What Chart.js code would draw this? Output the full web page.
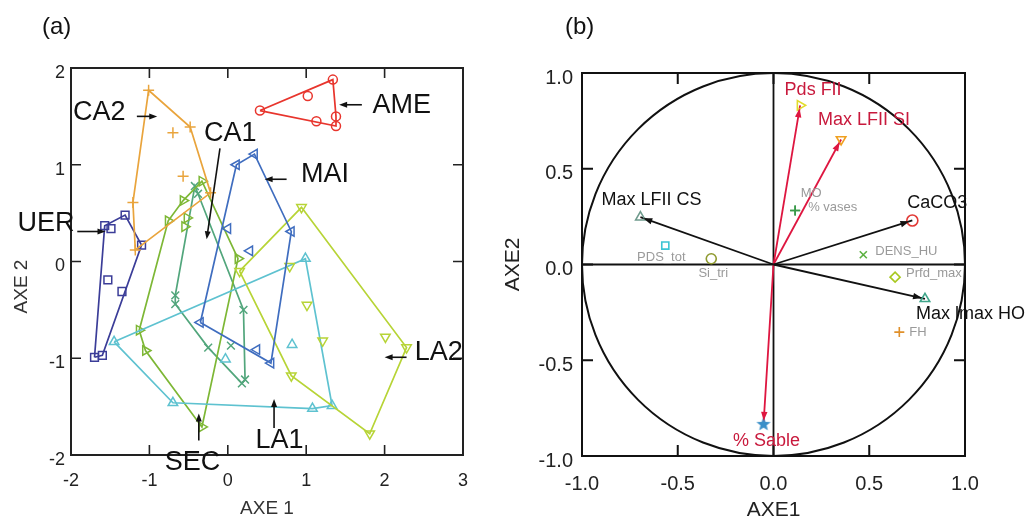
<!DOCTYPE html>
<html>
<head>
<meta charset="utf-8">
<title>ACP - AXE 1 / AXE 2</title>
<script src="https://cdn.jsdelivr.net/npm/chart.js@4.4.1/dist/chart.umd.min.js"></script>
<style>
  body { margin: 0; background: #fff; width: 1032px; height: 521px; overflow: hidden; position: relative;
         font-family: 'Liberation Sans', Arial, sans-serif; }
  .panel { position: absolute; top: 0; height: 521px; }
  .tag { position: absolute; top: 12px; font-size: 24px; color: #111; }
</style>
</head>
<body>
<div class="panel" style="left:0; width:490px"><canvas id="chartA" width="490" height="521"></canvas></div>
<div class="panel" style="left:490px; width:542px"><canvas id="chartB" width="542" height="521"></canvas></div>
<div class="tag" style="left:42px">(a)</div>
<div class="tag" style="left:565px">(b)</div>

<script>
// ---- (a) scores of the samples on AXE 1 / AXE 2, one pair of arrays per group
const groups = ['AME', 'CA2', 'UER', 'MAI', 'LA2', 'LA1', 'SEC', 'CA1'];
const ameX = [1.34, 0.41, 1.02, 1.38, 1.13, 1.38];
const ameY = [1.88, 1.56, 1.71, 1.50, 1.45, 1.40];
const ca2X = [-1.01, -0.48, -0.70, -0.57, -1.21, -1.18, -0.22];
const ca2Y = [1.77, 1.39, 1.33, 0.88, 0.61, 0.12, 0.71];
const uerX = [-1.57, -1.49, -1.31, -1.10, -1.53, -1.35, -1.70, -1.60];
const uerY = [0.37, 0.34, 0.48, 0.17, -0.19, -0.31, -0.99, -0.97];
const maiX = [0.11, 0.34, 0.81, 0.00, 0.28, -0.35, 0.37, 0.55];
const maiY = [1.00, 1.11, 0.31, 0.34, 0.11, -0.63, -0.91, -1.05];
const la2X = [0.94, 2.28, 1.81, 0.81, 0.15, 0.79, 1.01, 1.21, 2.01];
const la2Y = [0.56, -0.89, -1.78, -1.18, -0.10, -0.05, -0.45, -0.82, -0.78];
const la1X = [0.99, -1.45, -0.70, 1.08, 1.33, 0.82, -0.03];
const la1Y = [0.03, -0.83, -1.46, -1.52, -1.49, -0.86, -1.01];
const secX = [-0.33, -0.57, -0.76, -0.52, -0.55, 0.13, -1.13, -1.05, -0.33];
const secY = [0.83, 0.63, 0.42, 0.45, 0.36, 0.03, -0.71, -0.92, -1.71];
const ca1X = [-0.42, -0.38, -0.67, -0.67, 0.20, -0.25, 0.04, 0.22, 0.18];
const ca1Y = [0.78, 0.70, -0.35, -0.44, -0.50, -0.89, -0.87, -1.22, -1.26];
const groupXs = [ameX, ca2X, uerX, maiX, la2X, la1X, secX, ca1X];
const groupYs = [ameY, ca2Y, uerY, maiY, la2Y, la1Y, secY, ca1Y];
const ticksA_X = [-2, -1, 0, 1, 2, 3];
const ticksA_Y = [-2, -1, 0, 1, 2];

// ---- (b) correlation circle: active variables (arrows) and supplementary ones
const arrowNames = ['Max LFII CS', 'CaCO3', 'Max lmax HO', 'Pds FII', 'Max LFII SI', '% Sable'];
const arrowX = [-0.695, 0.725, 0.791, 0.139, 0.353, -0.052];
const arrowY = [0.247, 0.230, -0.179, 0.831, 0.653, -0.832];
const suppNames = ['PDS_tot', 'Si_tri', 'MO', '% vases', 'DENS_HU', 'Prfd_max', 'FH'];
const suppX = [-0.565, -0.325, 0.113, 0.113, 0.469, 0.635, 0.657];
const suppY = [0.099, 0.030, 0.282, 0.282, 0.051, -0.066, -0.353];
const ticksB = [-1.0, -0.5, 0.0, 0.5, 1.0];

// ---- styles
const family = "'Liberation Sans', Arial, Helvetica, sans-serif";
Chart.defaults.font.family = family;
Chart.defaults.animation = false;
Chart.defaults.events = [];
Chart.defaults.plugins.legend.display = false;
Chart.defaults.plugins.tooltip.enabled = false;

const groupColor = ['#e8352d', '#e9a43c', '#3b3d98', '#3f6dbf', '#b7d436', '#5ec2d0', '#7db735', '#52a67c'];
const groupMarker = [
  { style: 'circle', rot: 0, r: 4.5 },
  { style: 'cross', rot: 0, r: 5.5 },
  { style: 'rect', rot: 0, r: 5.5 },
  { style: 'triangle', rot: -90, r: 5.5 },
  { style: 'triangle', rot: 180, r: 5.5 },
  { style: 'triangle', rot: 0, r: 5.5 },
  { style: 'triangle', rot: 90, r: 5.5 },
  { style: 'crossRot', rot: 0, r: 5.5 }
];
// label centre and arrow (from -> to), in axis units
const groupNotes = [
  { at: [2.22, 1.61], from: [1.71, 1.62], to: [1.42, 1.62] },
  { at: [-1.64, 1.54], from: [-1.16, 1.50], to: [-0.90, 1.50] },
  { at: [-2.32, 0.39], from: [-1.92, 0.31], to: [-1.56, 0.31] },
  { at: [1.24, 0.90], from: [0.75, 0.85], to: [0.47, 0.85] },
  { at: [2.69, -0.94], from: [2.28, -0.99], to: [2.00, -0.99] },
  { at: [0.66, -1.85], from: [0.59, -1.72], to: [0.59, -1.42] },
  { at: [-0.45, -2.08], from: [-0.37, -1.85], to: [-0.37, -1.57] },
  { at: [0.03, 1.32], from: [-0.10, 1.17], to: [-0.27, 0.23] }
];

const red = '#de1640';
const arrowColor = ['#111', '#111', '#111', red, red, red];
const arrowMarker = [
  { style: 'triangle', rot: 0, color: '#6f9b8d' },
  { style: 'circle', rot: 0, color: '#e23a36' },
  { style: 'triangle', rot: 0, color: '#3fa58a' },
  { style: 'triangle', rot: 90, color: '#e2dc2c' },
  { style: 'triangle', rot: 180, color: '#f0a020' },
  { style: 'star', rot: 0, color: '#3a8fc8' }
];
const arrowLabel = [
  { dx: 11, dy: -17, align: 'center', color: '#111' },
  { dx: 25, dy: -17, align: 'center', color: '#111' },
  { dx: -9, dy: 15, align: 'left', color: '#111' },
  { dx: 13, dy: -15, align: 'center', color: '#c8193c' },
  { dx: 23, dy: -19, align: 'center', color: '#c8193c' },
  { dx: 3, dy: 17, align: 'center', color: '#c8193c' }
];
const suppMarker = [
  { style: 'rect', color: '#3cc4d4' },
  { style: 'circle', color: '#8f9a2f' },
  { style: 'cross', color: '#3a9a4a' },
  { style: 'cross', color: '#3a9a4a' },
  { style: 'crossRot', color: '#5bb040' },
  { style: 'rectRot', color: '#a8c820' },
  { style: 'cross', color: '#e0902a' }
];
const suppLabel = [
  { dx: -4, dy: 12, align: 'center' },
  { dx: 2, dy: 15, align: 'center' },
  { dx: 16, dy: -17, align: 'center' },
  { dx: 13, dy: -3, align: 'left' },
  { dx: 12, dy: -3, align: 'left' },
  { dx: 11, dy: -4, align: 'left' },
  { dx: 10, dy: 0, align: 'left' }
];

function starImage(color) {
  const c = document.createElement('canvas');
  c.width = 16; c.height = 16;
  const g = c.getContext('2d');
  g.fillStyle = color;
  g.beginPath();
  for (let i = 0; i < 10; i++) {
    const r = i % 2 ? 3.2 : 7.5;
    const a = -Math.PI / 2 + i * Math.PI / 5;
    g.lineTo(8 + r * Math.cos(a), 8.5 + r * Math.sin(a));
  }
  g.closePath();
  g.fill();
  return c;
}

function hull(xs, ys) {
  const p = xs.map((x, i) => ({ x, y: ys[i] })).sort((a, b) => a.x - b.x || a.y - b.y);
  const cross = (o, a, b) => (a.x - o.x) * (b.y - o.y) - (a.y - o.y) * (b.x - o.x);
  const lo = [], up = [];
  for (const q of p) {
    while (lo.length > 1 && cross(lo[lo.length - 2], lo[lo.length - 1], q) <= 0) lo.pop();
    lo.push(q);
  }
  for (const q of p.slice().reverse()) {
    while (up.length > 1 && cross(up[up.length - 2], up[up.length - 1], q) <= 0) up.pop();
    up.push(q);
  }
  const h = lo.slice(0, -1).concat(up.slice(0, -1));
  h.push(h[0]);
  return h;
}

function arrowHead(ctx, x, y, ang, len, wid) {
  ctx.beginPath();
  ctx.moveTo(x, y);
  ctx.lineTo(x - len * Math.cos(ang) + wid * Math.sin(ang), y - len * Math.sin(ang) - wid * Math.cos(ang));
  ctx.lineTo(x - len * Math.cos(ang) - wid * Math.sin(ang), y - len * Math.sin(ang) + wid * Math.cos(ang));
  ctx.closePath();
  ctx.fill();
}

function innerTicks(ctx, chart, len) {
  const { chartArea: a, scales: { x, y } } = chart;
  ctx.beginPath();
  x.ticks.forEach(t => {
    if (t.value <= x.min || t.value >= x.max) return;
    const px = x.getPixelForValue(t.value);
    ctx.moveTo(px, a.top); ctx.lineTo(px, a.top + len);
    ctx.moveTo(px, a.bottom); ctx.lineTo(px, a.bottom - len);
  });
  y.ticks.forEach(t => {
    if (t.value <= y.min || t.value >= y.max) return;
    const py = y.getPixelForValue(t.value);
    ctx.moveTo(a.left, py); ctx.lineTo(a.left + len, py);
    ctx.moveTo(a.right, py); ctx.lineTo(a.right - len, py);
  });
  ctx.stroke();
}

// ---------------- panel (a)
const dataA = [];
groups.forEach((g, i) => {
  dataA.push({
    label: g + ' hull',
    data: hull(groupXs[i], groupYs[i]),
    showLine: true,
    borderColor: groupColor[i],
    borderWidth: 1.7,
    pointRadius: 0,
    fill: false
  });
  dataA.push({
    label: g,
    data: groupXs[i].map((x, k) => ({ x, y: groupYs[i][k] })),
    showLine: false,
    pointStyle: groupMarker[i].style,
    rotation: groupMarker[i].rot,
    pointRadius: groupMarker[i].r,
    pointBorderColor: groupColor[i],
    pointBackgroundColor: 'rgba(255,255,255,0)',
    pointBorderWidth: 1.5
  });
});

const notesA = {
  id: 'notesA',
  afterDatasetsDraw(chart) {
    const { ctx, chartArea: a, scales: { x, y } } = chart;
    ctx.save();
    ctx.strokeStyle = '#222';
    ctx.lineWidth = 2;
    ctx.strokeRect(a.left, a.top, a.right - a.left, a.bottom - a.top);
    ctx.lineWidth = 1.6;
    innerTicks(ctx, chart, 10);

    ctx.fillStyle = '#111';
    ctx.strokeStyle = '#111';
    ctx.font = '27px ' + family;
    ctx.textAlign = 'center';
    ctx.textBaseline = 'middle';
    groups.forEach((g, i) => {
      const n = groupNotes[i];
      ctx.fillText(g, x.getPixelForValue(n.at[0]), y.getPixelForValue(n.at[1]));
      const x0 = x.getPixelForValue(n.from[0]), y0 = y.getPixelForValue(n.from[1]);
      const x1 = x.getPixelForValue(n.to[0]), y1 = y.getPixelForValue(n.to[1]);
      const ang = Math.atan2(y1 - y0, x1 - x0);
      ctx.lineWidth = 1.6;
      ctx.beginPath();
      ctx.moveTo(x0, y0);
      ctx.lineTo(x1 - 5 * Math.cos(ang), y1 - 5 * Math.sin(ang));
      ctx.stroke();
      arrowHead(ctx, x1, y1, ang, 8, 3);
    });

    // y axis title
    ctx.font = '19px ' + family;
    ctx.fillStyle = '#333';
    ctx.translate(22, (a.top + a.bottom) / 2 + 25);
    ctx.rotate(-Math.PI / 2);
    ctx.fillText('AXE 2', 0, 0);
    ctx.restore();
  }
};

new Chart(document.getElementById('chartA'), {
  type: 'scatter',
  data: { datasets: dataA },
  options: {
    responsive: false,
    layout: { padding: { top: 68, right: 27, left: 0, bottom: 0 } },
    scales: {
      x: {
        type: 'linear', min: ticksA_X[0], max: ticksA_X[ticksA_X.length - 1],
        afterBuildTicks: s => { s.ticks = ticksA_X.map(v => ({ value: v })); },
        afterFit: s => { s.height = 66; },
        grid: { display: false, drawTicks: false },
        border: { display: false },
        ticks: { color: '#222', font: { size: 18 }, padding: 15 },
        title: { display: true, text: 'AXE 1', color: '#333', font: { size: 19, lineHeight: 1 },
                 padding: { top: 0, bottom: 3 } }
      },
      y: {
        type: 'linear', min: ticksA_Y[0], max: ticksA_Y[ticksA_Y.length - 1],
        afterBuildTicks: s => { s.ticks = ticksA_Y.map(v => ({ value: v })); },
        afterFit: s => { s.width = 71; },
        grid: { display: false, drawTicks: false },
        border: { display: false },
        ticks: { color: '#222', font: { size: 18 }, padding: 6, labelOffset: 5 }
      }
    }
  },
  plugins: [notesA]
});

// ---------------- panel (b)
const dataB = [];
arrowNames.forEach((n, i) => {
  const m = arrowMarker[i];
  const isStar = m.style === 'star';
  dataB.push({
    label: n,
    data: [{ x: 0, y: 0 }, { x: arrowX[i], y: arrowY[i] }],
    showLine: true,
    borderColor: arrowColor[i],
    borderWidth: 1.8,
    pointRadius: [0, 5.5],
    pointStyle: ['circle', isStar ? starImage(m.color) : m.style],
    rotation: m.rot,
    pointBorderColor: m.color,
    pointBackgroundColor: 'rgba(255,255,255,0)',
    pointBorderWidth: 1.6
  });
});
suppNames.forEach((n, i) => {
  dataB.push({
    label: n,
    data: [{ x: suppX[i], y: suppY[i] }],
    showLine: false,
    pointStyle: suppMarker[i].style,
    pointRadius: 5,
    pointBorderColor: suppMarker[i].color,
    pointBackgroundColor: 'rgba(255,255,255,0)',
    pointBorderWidth: 1.6
  });
});

const circleB = {
  id: 'circleB',
  beforeDatasetsDraw(chart) {
    const { ctx, chartArea: a, scales: { x, y } } = chart;
    const cx = x.getPixelForValue(0), cy = y.getPixelForValue(0);
    ctx.save();
    ctx.strokeStyle = '#111';
    ctx.lineWidth = 2;
    ctx.beginPath();
    ctx.ellipse(cx, cy, x.getPixelForValue(1) - cx, cy - y.getPixelForValue(1), 0, 0, Math.PI * 2);
    ctx.stroke();
    ctx.lineWidth = 1.8;
    ctx.beginPath();
    ctx.moveTo(cx, a.top); ctx.lineTo(cx, a.bottom);
    ctx.moveTo(a.left, cy); ctx.lineTo(a.right, cy);
    ctx.stroke();
    ctx.restore();
  },
  afterDatasetsDraw(chart) {
    const { ctx, chartArea: a } = chart;
    ctx.save();
    ctx.strokeStyle = '#111';
    ctx.lineWidth = 2;
    ctx.strokeRect(a.left, a.top, a.right - a.left, a.bottom - a.top);
    innerTicks(ctx, chart, 11);

    ctx.textBaseline = 'middle';
    arrowNames.forEach((n, i) => {
      const pts = chart.getDatasetMeta(i).data;
      const p0 = pts[0], p1 = pts[1];
      const ang = Math.atan2(p1.y - p0.y, p1.x - p0.x);
      ctx.fillStyle = arrowColor[i];
      arrowHead(ctx, p1.x - 3 * Math.cos(ang), p1.y - 3 * Math.sin(ang), ang, 9, 3.2);
      const l = arrowLabel[i];
      ctx.fillStyle = l.color;
      ctx.font = '18px ' + family;
      ctx.textAlign = l.align;
      ctx.fillText(n, p1.x + l.dx, p1.y + l.dy);
    });
    ctx.font = '13px ' + family;
    ctx.fillStyle = '#9a9a9a';
    suppNames.forEach((n, i) => {
      const p = chart.getDatasetMeta(arrowNames.length + i).data[0];
      const l = suppLabel[i];
      ctx.textAlign = l.align;
      ctx.fillText(n, p.x + l.dx, p.y + l.dy);
    });
    ctx.restore();
  }
};

new Chart(document.getElementById('chartB'), {
  type: 'scatter',
  data: { datasets: dataB },
  options: {
    responsive: false,
    layout: { padding: { top: 73, right: 67, left: 0, bottom: 0 } },
    clip: false,
    scales: {
      x: {
        type: 'linear', min: -1, max: 1,
        afterBuildTicks: s => { s.ticks = ticksB.map(v => ({ value: v })); },
        afterFit: s => { s.height = 65; },
        grid: { display: false, drawTicks: false },
        border: { display: false },
        ticks: { color: '#222', font: { size: 20 }, padding: 16, callback: v => v.toFixed(1) },
        title: { display: true, text: 'AXE1', color: '#222', font: { size: 21, lineHeight: 1 },
                 padding: { top: 0, bottom: 0 } }
      },
      y: {
        type: 'linear', min: -1, max: 1,
        afterBuildTicks: s => { s.ticks = ticksB.map(v => ({ value: v })); },
        afterFit: s => { s.width = 92; },
        grid: { display: false, drawTicks: false },
        border: { display: false },
        ticks: { color: '#222', font: { size: 20 }, padding: 9, labelOffset: 5, callback: v => v.toFixed(1) },
        title: { display: true, text: 'AXE2', color: '#222', font: { size: 21, lineHeight: 1 },
                 padding: { top: 13, bottom: 0 } }
      }
    }
  },
  plugins: [circleB]
});
</script>
</body>
</html>
